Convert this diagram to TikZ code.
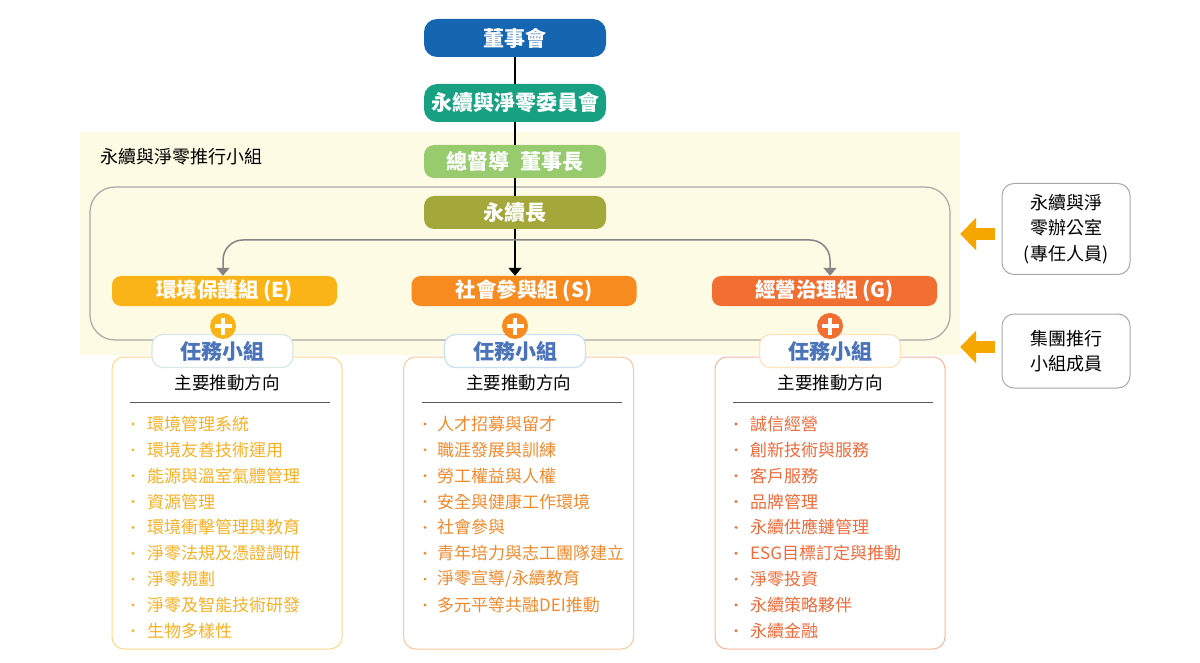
\documentclass[tikz,border=0pt]{standalone}
\usepackage{fontspec}
\setmainfont{Noto Sans CJK TC}
\usetikzlibrary{arrows.meta}
\definecolor{boardblue}{HTML}{1565B1}
\definecolor{committeeteal}{HTML}{18A083}
\definecolor{chairgreen}{HTML}{97CB6D}
\definecolor{csoolive}{HTML}{A4A83A}
\definecolor{Egold}{HTML}{FBB417}
\definecolor{Sorange}{HTML}{F78B1F}
\definecolor{Gred}{HTML}{F26F32}
\definecolor{Etext}{HTML}{F6B127}
\definecolor{Stext}{HTML}{F08A2E}
\definecolor{Gtext}{HTML}{EE6B3B}
\definecolor{Eedge}{HTML}{FDD98C}
\definecolor{Sedge}{HTML}{F9C9A0}
\definecolor{Gedge}{HTML}{F6B79E}
\definecolor{Etab}{HTML}{D7E8E6}
\definecolor{Stab}{HTML}{C9E1F1}
\definecolor{Gtab}{HTML}{FDE3C0}
\definecolor{taskblue}{HTML}{4A73B9}
\definecolor{cream}{HTML}{FEFBE4}
\definecolor{framegray}{HTML}{A8A8A8}
\definecolor{linegray}{HTML}{858585}
\definecolor{rulegray}{HTML}{5A5A5A}
\definecolor{arrowyellow}{HTML}{F5A700}
\tikzstyle{topbox} = [rectangle, rounded corners=13pt, minimum width=182pt, minimum height=38pt, inner sep=0pt, text=white, font=\fontsize{21}{24}\selectfont\bfseries]
\tikzstyle{lead} = [topbox, rounded corners=10pt, minimum height=33pt]
\tikzstyle{group} = [rectangle, rounded corners=9pt, minimum width=225pt, minimum height=30pt, inner sep=0pt, text=white, font=\fontsize{20.5}{22}\selectfont\bfseries]
\tikzstyle{task} = [rectangle, rounded corners=11pt, minimum width=141pt, minimum height=33pt, inner sep=0pt, fill=white, line width=1.2pt, text=taskblue, font=\fontsize{21}{24}\selectfont\bfseries]
\tikzstyle{content} = [rectangle, rounded corners=12pt, minimum width=230pt, minimum height=292pt, inner sep=0pt, fill=white, line width=1pt]
\tikzstyle{plus} = [circle, minimum size=26pt, inner sep=0pt, path picture={\draw[white, line width=4.5pt] ([yshift=8.5pt]path picture bounding box.center) -- ([yshift=-8.5pt]path picture bounding box.center) ([xshift=-8.5pt]path picture bounding box.center) -- ([xshift=8.5pt]path picture bounding box.center);}]
\tikzstyle{head} = [inner sep=0pt, font=\fontsize{17.5}{20}\selectfont]
\tikzstyle{item} = [anchor=west, inner sep=0pt, font=\fontsize{17}{20}\selectfont]
\tikzstyle{side} = [rectangle, rounded corners=12pt, draw=framegray, line width=1pt, minimum width=128pt, align=center, font=\fontsize{18}{25.5}\selectfont]
\tikzstyle{line} = [line width=1.5pt]
\tikzstyle{arrow} = [line width=1.5pt, -{Triangle[width=13pt,length=8pt]}]
\tikzstyle{grayarrow} = [line width=1.5pt, draw=linegray, rounded corners=20pt, -{Triangle[width=13pt,length=8pt]}]
\tikzstyle{bigarrow} = [line width=11.5pt, draw=arrowyellow, -{Triangle[width=32pt,length=16pt]}]

\begin{document}
\begin{tikzpicture}[x=1pt, y=-1pt]
\useasboundingbox (0,0) rectangle (1200,663);

\node (zone) [fill=cream, minimum width=880pt, minimum height=223pt, inner sep=0pt] at (520,243.5) {};
\node (frame) [draw=framegray, line width=1.2pt, rounded corners=25pt, minimum width=860pt, minimum height=153pt, inner sep=0pt] at (520,263.5) {};
\node (teamlabel) [anchor=west, inner sep=0pt, font=\fontsize{18}{20}\selectfont] at (100,157) {永續與淨零推行小組};

\node (board) [topbox, fill=boardblue] at (515,38) {董事會};
\node (committee) [topbox, fill=committeeteal] at (515,103) {永續與淨零委員會};
\node (chair) [lead, fill=chairgreen] at (515,161.5) {總督導\hspace{0.5em}董事長};
\node (cso) [lead, fill=csoolive] at (515,212.5) {永續長};

\node (Egroup) [group, fill=Egold] at (224.5,291) {環境保護組 (E)};
\node (Sgroup) [group, fill=Sorange] at (524,291) {社會參與組 (S)};
\node (Ggroup) [group, fill=Gred] at (824.5,291) {經營治理組 (G)};

\node (Ebox) [content, draw=Eedge] at (227,503) {};
\node (Sbox) [content, draw=Sedge] at (518.5,503) {};
\node (Gbox) [content, draw=Gedge] at (830,503) {};

\node (Etask) [task, draw=Etab] at (222.5,351) {任務小組};
\node (Stask) [task, draw=Stab] at (515,351) {任務小組};
\node (Gtask) [task, draw=Gtab] at (830,351) {任務小組};

\node (Eplus) [plus, fill=Egold] at (223,326) {};
\node (Splus) [plus, fill=Sorange] at (515,326) {};
\node (Gplus) [plus, fill=Gred] at (830,326) {};

\draw [line] (board) -- (committee);
\draw [line] (committee) -- (chair);
\draw [line] (chair) -- (cso);
\draw [arrow] (cso) -- (cso |- Sgroup.north);
\coordinate (split) at (515,240);
\draw [grayarrow] (split) -| (Eplus |- Egroup.north);
\draw [grayarrow] (split) -| (Gplus |- Ggroup.north);

% main directions
\node (Ehead) [head] at (Ebox.north |- 0,383) {主要推動方向};
\node (Shead) [head] at (Sbox.north |- 0,383) {主要推動方向};
\node (Ghead) [head] at (Gbox.north |- 0,383) {主要推動方向};
\draw [rulegray, line width=1pt] (130,402) -- (330,402);
\draw [rulegray, line width=1pt] (422,402) -- (622,402);
\draw [rulegray, line width=1pt] (733,402) -- (933,402);

\foreach \t [count=\i from 0] in {環境管理系統, 環境友善技術運用, 能源與溫室氣體管理, 資源管理, 環境衝擊管理與教育, 淨零法規及憑證調研, 淨零規劃, 淨零及智能技術研發, 生物多樣性} {
  \fill [Etext] (133,424+25.85*\i) circle (1.6pt);
  \node [item, text=Etext] at (147,424+25.85*\i) {\t};
}
\foreach \t [count=\i from 0] in {人才招募與留才, 職涯發展與訓練, 勞工權益與人權, 安全與健康工作環境, 社會參與, 青年培力與志工團隊建立, 淨零宣導/永續教育, 多元平等共融DEI推動} {
  \fill [Stext] (425,424+25.85*\i) circle (1.6pt);
  \node [item, text=Stext] at (437,424+25.85*\i) {\t};
}
\foreach \t [count=\i from 0] in {誠信經營, 創新技術與服務, 客戶服務, 品牌管理, 永續供應鏈管理, ESG目標訂定與推動, 淨零投資, 永續策略夥伴, 永續金融} {
  \fill [Gtext] (736,424+25.85*\i) circle (1.6pt);
  \node [item, text=Gtext] at (750,424+25.85*\i) {\t};
}

\node (office) [side, minimum height=91pt] at (1066,229) {永續與淨\\零辦公室\\(專任人員)};
\node (members) [side, minimum height=74pt] at (1066,351) {集團推行\\小組成員};
\coordinate (officein) at ([yshift=-5pt]office.west);
\coordinate (membersin) at ([yshift=4pt]members.west);
\draw [bigarrow] ([xshift=-7pt]officein) -- (officein -| zone.east);
\draw [bigarrow] ([xshift=-7pt]membersin) -- (membersin -| zone.east);
\end{tikzpicture}
\end{document}
